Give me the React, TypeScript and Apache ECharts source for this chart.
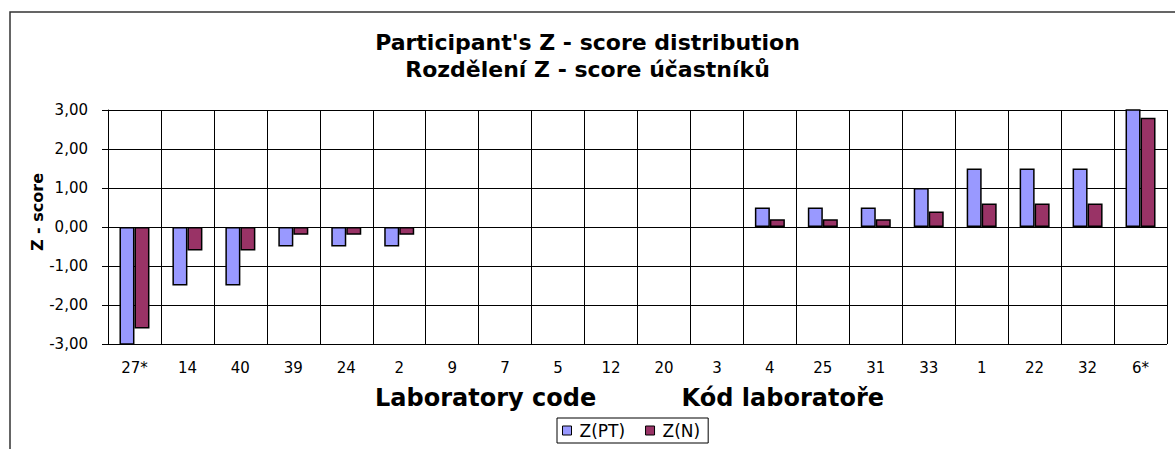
import React, { useEffect, useRef } from "react";
import * as echarts from "echarts";

const categories = ["27*", "14", "40", "39", "24", "2", "9", "7", "5", "12", "20", "3", "4", "25", "31", "33", "1", "22", "32", "6*"];
const zPT = [-3.3, -1.5, -1.5, -0.5, -0.5, -0.5, 0, 0, 0, 0, 0, 0, 0.5, 0.5, 0.5, 1.0, 1.5, 1.5, 1.5, 3.3];
const zN = [-2.6, -0.6, -0.6, -0.2, -0.2, -0.2, 0, 0, 0, 0, 0, 0, 0.2, 0.2, 0.2, 0.4, 0.6, 0.6, 0.6, 2.8];
const seriesNames = ["Z(PT)", "Z(N)"];
const titleLines = ["Participant's Z - score distribution", "Rozdělení Z - score účastníků"];
const yAxisName = "Z - score";
const xAxisNames = ["Laboratory code", "Kód laboratoře"];
const yMin = -3;
const yMax = 3;
const yStep = 1;

const FONT = "'DejaVu Sans', 'Liberation Sans', Arial, sans-serif";

// zero-height bars are not drawn in the reference
const visible = (arr: number[]) => arr.map((v) => (v === 0 ? null : v));

export default function App() {
  const ref = useRef<HTMLDivElement>(null);

  useEffect(() => {
    document.body.style.margin = "0";
    if (!ref.current) return;
    const chart = echarts.init(ref.current, null, { renderer: "svg" });
    chart.setOption({
      animation: false,
      backgroundColor: "#fff",
      title: {
        text: titleLines.join("\n"),
        left: "center",
        top: 29,
        padding: 0,
        textStyle: { fontFamily: FONT, fontSize: 22, fontWeight: "bold", lineHeight: 27, color: "#000" },
      },
      legend: {
        data: seriesNames,
        left: 557,
        top: 418,
        orient: "horizontal",
        padding: [4, 8, 4, 5],
        itemGap: 20,
        itemWidth: 9,
        itemHeight: 9,
        icon: "rect",
        borderColor: "#000",
        borderWidth: 1,
        itemStyle: { borderColor: "#000", borderWidth: 1 },
        textStyle: { fontFamily: FONT, fontSize: 17, color: "#000", padding: [0, 0, 0, 3] },
      },
      grid: { left: 108, right: 8, top: 110, bottom: 105, containLabel: false, outerBoundsMode: "none" },
      xAxis: {
        type: "category",
        data: categories,
        axisLine: { onZero: true, lineStyle: { color: "#000", width: 1 } },
        axisTick: { show: true, length: 5, lineStyle: { color: "#000" } },
        axisLabel: { margin: 16, color: "#000", fontSize: 15, fontFamily: FONT },
        splitLine: { show: true, lineStyle: { color: "#000", width: 1 } },
      },
      yAxis: {
        type: "value",
        min: yMin,
        max: yMax,
        interval: yStep,
        axisLine: { show: true, lineStyle: { color: "#000", width: 1 } },
        axisTick: { show: true, length: 6, lineStyle: { color: "#000" } },
        axisLabel: {
          margin: 20,
          color: "#000",
          fontSize: 15,
          fontFamily: FONT,
          formatter: (v: number) => v.toFixed(2).replace(".", ","),
        },
        splitLine: { show: true, lineStyle: { color: "#000", width: 1 } },
      },
      series: [
        {
          name: seriesNames[0],
          type: "bar",
          data: visible(zPT),
          barWidth: 15,
          barGap: "0%",
          clip: true,
          itemStyle: { color: "#9999FF", borderColor: "#000", borderWidth: 1.5 },
        },
        {
          name: seriesNames[1],
          type: "bar",
          data: visible(zN),
          barWidth: 15,
          barGap: "0%",
          clip: true,
          itemStyle: { color: "#993366", borderColor: "#000", borderWidth: 1.5 },
        },
      ],
      graphic: [
        {
          type: "rect",
          shape: { x: 10, y: 12, width: 1300, height: 600 },
          style: { fill: "none", stroke: "#333", lineWidth: 1.5 },
          silent: true,
          z: -1,
        },
        {
          type: "text",
          x: 37,
          y: 212,
          rotation: Math.PI / 2,
          style: {
            text: yAxisName,
            fontFamily: FONT,
            fontSize: 16,
            fontWeight: "bold",
            fill: "#000",
            textAlign: "center",
            textVerticalAlign: "middle",
          },
        },
        {
          type: "text",
          x: 375,
          y: 398,
          style: {
            text: xAxisNames[0],
            fontFamily: FONT,
            fontSize: 24,
            fontWeight: "bold",
            fill: "#000",
            textAlign: "left",
            textVerticalAlign: "middle",
          },
        },
        {
          type: "text",
          x: 884,
          y: 398,
          style: {
            text: xAxisNames[1],
            fontFamily: FONT,
            fontSize: 24,
            fontWeight: "bold",
            fill: "#000",
            textAlign: "right",
            textVerticalAlign: "middle",
          },
        },
      ],
    });
    return () => chart.dispose();
  }, []);

  return <div ref={ref} style={{ width: 1175, height: 449 }} />;
}
